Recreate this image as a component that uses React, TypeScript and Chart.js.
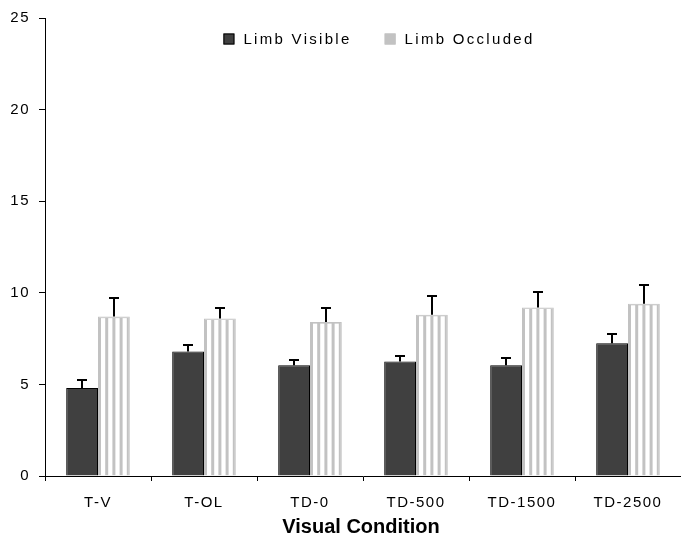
import React, { useEffect, useRef } from 'react';
import { Chart, registerables } from 'chart.js';

Chart.register(...registerables);

// Mean response values per visual condition, with their error margins
const conditions = ['T-V', 'T-OL', 'TD-0', 'TD-500', 'TD-1500', 'TD-2500'];
const limbVisible = [4.8, 6.8, 6.05, 6.25, 6.05, 7.25];
const limbVisibleErr = [0.42, 0.33, 0.3, 0.3, 0.38, 0.52];
const limbOccluded = [8.7, 8.6, 8.4, 8.8, 9.2, 9.4];
const limbOccludedErr = [1.0, 0.58, 0.78, 1.0, 0.82, 1.02];
const yTicks = [0, 5, 10, 15, 20, 25];
const seriesNames = ['Limb Visible', 'Limb Occluded'];
const xAxisTitle = 'Visual Condition';

const FONT = '"Liberation Sans", Arial, Helvetica, sans-serif';
const DARK = '#404040';
const LIGHT = '#c2c2c2';

// Wide, evenly spaced lettering for the axis text
const spacingPlugin = {
  id: 'letterSpacing',
  beforeDraw(chart: any) {
    chart.ctx.letterSpacing = '1.5px';
  },
};

// White vertical stripes inside the occluded-limb bars
const stripePlugin = {
  id: 'stripes',
  afterDatasetDraw(chart: any, args: any) {
    if (args.index !== 1) return;
    const ctx = chart.ctx;
    ctx.save();
    ctx.fillStyle = '#ffffff';
    const grayW = 3;
    const n = 5;
    args.meta.data.forEach((el: any) => {
      const { x, y, base, width } = el.getProps(['x', 'y', 'base', 'width'], true);
      const left = x - width / 2;
      const gap = (width - n * grayW) / (n - 1);
      for (let k = 0; k < n - 1; k++) {
        const sx = left + grayW + k * (grayW + gap);
        ctx.fillRect(sx, y + 1.5, gap, base - y - 1.5);
      }
    });
    ctx.restore();
  },
};

// One-sided (upper) error bars with caps
const errorBarPlugin = {
  id: 'errorBars',
  afterDatasetsDraw(chart: any) {
    const ctx = chart.ctx;
    const yScale = chart.scales.y;
    ctx.save();
    ctx.strokeStyle = '#000';
    ctx.lineWidth = 2;
    chart.data.datasets.forEach((ds: any, i: number) => {
      const meta = chart.getDatasetMeta(i);
      meta.data.forEach((el: any, j: number) => {
        const top = Math.round(yScale.getPixelForValue(ds.data[j] + ds.errors[j]));
        const x = Math.round(el.x);
        ctx.beginPath();
        ctx.moveTo(x, el.y);
        ctx.lineTo(x, top);
        ctx.moveTo(x - 5, top);
        ctx.lineTo(x + 5, top);
        ctx.stroke();
      });
    });
    ctx.restore();
  },
};

// Legend inside the plot area plus the bold x-axis title
const legendAndTitlePlugin = {
  id: 'legendAndTitle',
  afterDraw(chart: any) {
    const ctx = chart.ctx;
    const ca = chart.chartArea;
    ctx.save();
    ctx.font = `15px ${FONT}`;
    ctx.letterSpacing = '2.3px';
    ctx.textBaseline = 'middle';
    ctx.textAlign = 'left';
    const box = 11;
    const boxGap = 9;
    const itemGap = 33;
    const items = chart.data.datasets.map((ds: any) => ({
      label: ds.label,
      fill: ds.legendFill,
      stroke: ds.legendStroke,
      w: box + boxGap + ctx.measureText(ds.label).width,
    }));
    const total = items.reduce((s: number, it: any) => s + it.w, 0) + itemGap * (items.length - 1);
    let x = (ca.left + ca.right) / 2 + 16 - total / 2;
    const y = ca.top + 21;
    items.forEach((it: any) => {
      ctx.fillStyle = it.fill;
      ctx.fillRect(x, y - box / 2, box, box);
      ctx.strokeStyle = it.stroke;
      ctx.lineWidth = 1;
      ctx.strokeRect(x + 0.5, y - box / 2 + 0.5, box - 1, box - 1);
      ctx.fillStyle = '#000';
      ctx.fillText(it.label, x + box + boxGap, y + 0.5);
      x += it.w + itemGap;
    });

    ctx.letterSpacing = '0px';
    ctx.font = `bold 20px ${FONT}`;
    ctx.textAlign = 'center';
    ctx.fillStyle = '#000';
    ctx.fillText(xAxisTitle, (ca.left + ca.right) / 2 - 2, chart.height - 14);
    ctx.restore();
  },
};

export default function App() {
  const canvasRef = useRef<HTMLCanvasElement>(null);

  useEffect(() => {
    document.body.style.margin = '0';
    const chart = new Chart(canvasRef.current as HTMLCanvasElement, {
      type: 'bar',
      data: {
        labels: conditions,
        datasets: [
          {
            label: seriesNames[0],
            data: limbVisible,
            errors: limbVisibleErr,
            backgroundColor: DARK,
            borderColor: '#000',
            borderWidth: 1,
            legendFill: DARK,
            legendStroke: '#000',
            categoryPercentage: 0.6,
            barPercentage: 1.0,
          } as any,
          {
            label: seriesNames[1],
            data: limbOccluded,
            errors: limbOccludedErr,
            backgroundColor: LIGHT,
            borderColor: LIGHT,
            borderWidth: 1,
            legendFill: LIGHT,
            legendStroke: LIGHT,
            categoryPercentage: 0.6,
            barPercentage: 1.0,
          } as any,
        ],
      },
      options: {
        animation: false,
        responsive: false,
        devicePixelRatio: 1,
        layout: { padding: { top: 17, left: 0, right: 0, bottom: 0 } },
        plugins: {
          legend: { display: false },
          tooltip: { enabled: false },
          title: { display: false },
        },
        scales: {
          x: {
            offset: true,
            grid: {
              offset: true,
              drawOnChartArea: false,
              drawTicks: true,
              tickLength: 5,
              color: '#000',
            },
            border: { color: '#000', width: 1 },
            ticks: {
              color: '#000',
              font: { family: FONT, size: 15 },
              padding: 13,
              maxRotation: 0,
              autoSkip: false,
            },
            afterFit: (s: any) => {
              s.height = 65;
            },
          },
          y: {
            min: 0,
            max: 25,
            grid: {
              drawOnChartArea: false,
              drawTicks: true,
              tickLength: 6,
              color: '#000',
            },
            border: { color: '#000', width: 1 },
            ticks: {
              color: '#000',
              font: { family: FONT, size: 15 },
              padding: 9,
            },
            afterBuildTicks: (s: any) => {
              s.ticks = yTicks.map((v) => ({ value: v }));
            },
            afterFit: (s: any) => {
              s.width = 45;
            },
          },
        },
      } as any,
      plugins: [spacingPlugin, stripePlugin, errorBarPlugin, legendAndTitlePlugin],
    });
    return () => chart.destroy();
  }, []);

  return (
    <canvas
      ref={canvasRef}
      width={681}
      height={541}
      style={{ display: 'block', width: 681, height: 541 }}
    />
  );
}
